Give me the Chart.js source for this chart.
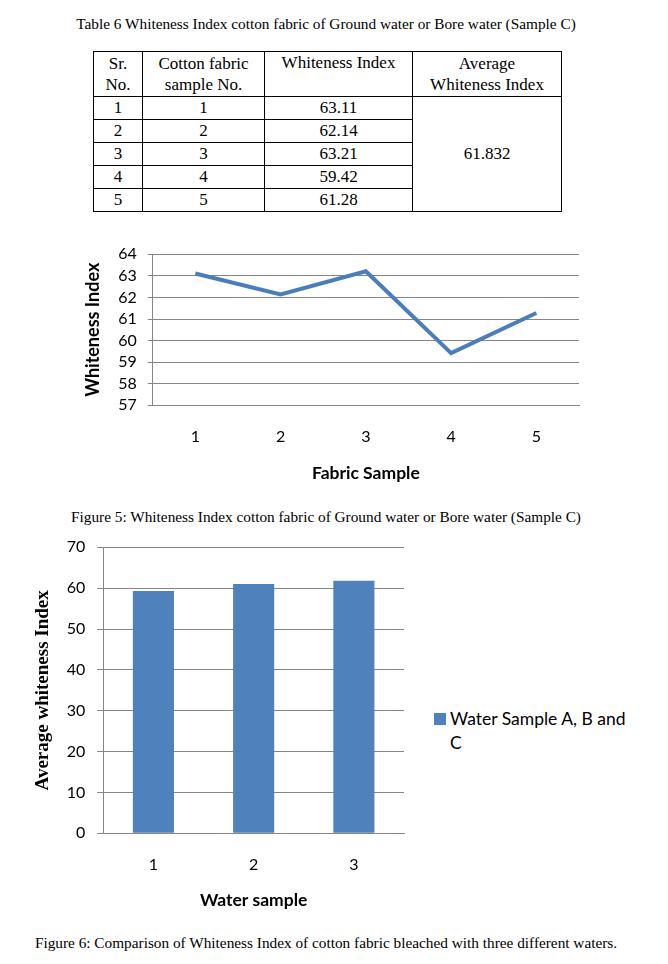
<!DOCTYPE html>
<html lang="en">
<head>
<meta charset="UTF-8">
<title>Whiteness Index - Sample C</title>
<script src="https://cdn.jsdelivr.net/npm/chart.js"></script>
<style>
    body {
        margin: 0;
        background: #fff;
        width: 668px;
        height: 964px;
        position: relative;
        overflow: hidden;
        font-family: "Liberation Serif", "Times New Roman", serif;
        color: #000;
    }

    .caption {
        position: absolute;
        left: 0;
        width: 652px;
        text-align: center;
        font-size: 15.3px;
        line-height: 18px;
        white-space: nowrap;
    }

    table.wi {
        position: absolute;
        left: 93px;
        top: 51px;
        border-collapse: collapse;
        font-size: 17px;
        table-layout: fixed;
    }

    table.wi td {
        border: 1px solid #000;
        text-align: center;
        padding: 0;
        height: 22px;
        line-height: 20px;
    }

    table.wi tr.head td {
        height: 44px;
        line-height: 21px;
    }

    .chart-box {
        position: absolute;
    }

    .legend {
        position: absolute;
        left: 434px;
        top: 707px;
        font-family: Lato, "Open Sans", sans-serif;
        font-size: 17.5px;
        line-height: 24px;
        display: flex;
        align-items: flex-start;
    }

    .legend .swatch {
        width: 12px;
        height: 12px;
        margin-top: 6px;
        margin-right: 4px;
        flex: none;
    }

    .legend .text {
        width: 181px;
    }
</style>
</head>
<body>

<div class="caption" style="top:15px;">Table 6 Whiteness Index cotton fabric of Ground water or Bore water (Sample C)</div>

<table class="wi" id="wiTable">
    <colgroup>
        <col style="width:49px">
        <col style="width:122px">
        <col style="width:148px">
        <col style="width:149px">
    </colgroup>
    <tr class="head">
        <td>Sr.<br>No.</td>
        <td>Cotton fabric<br>sample No.</td>
        <td style="vertical-align:top;">Whiteness Index</td>
        <td>Average<br>Whiteness Index</td>
    </tr>
</table>

<div class="chart-box" style="left:60px; top:240px; width:540px; height:250px;">
    <canvas id="lineChart"></canvas>
</div>

<div class="caption" style="top:508px;">Figure 5: Whiteness Index cotton fabric of Ground water or Bore water (Sample C)</div>

<div class="chart-box" style="left:20px; top:530px; width:400px; height:390px;">
    <canvas id="barChart"></canvas>
</div>

<div class="legend" id="barLegend"></div>

<div class="caption" style="top:934px;">Figure 6: Comparison of Whiteness Index of cotton fabric bleached with three different waters.</div>

<script>
    // table / line chart data (Sample C)
    const fabricSamples = ['1', '2', '3', '4', '5'];
    const whitenessIndex = [63.11, 62.14, 63.21, 59.42, 61.28];
    const averageWhiteness = '61.832';
    const lineTicks = { min: 57, max: 64, step: 1 };

    // bar chart data (water samples A, B, C)
    const waterSamples = ['1', '2', '3'];
    const avgWhiteness = [59.3, 61.0, 61.832];
    const barSeriesName = 'Water Sample A, B and C';
    const barTicks = { min: 0, max: 70, step: 10 };

    const blue = '#4F81BD';
    const gridGray = '#868686';
    const sans = 'Lato, "Open Sans", sans-serif';

    Chart.defaults.color = '#000';
    Chart.defaults.font.family = sans;

    // fixed axis width, and no extra label padding so layout.padding sets the plot top
    function fixWidth(w) {
        return (scale) => {
            scale.width = w;
            scale.paddingTop = 0;
            scale.paddingBottom = 0;
        };
    }

    // fill the table rows
    const table = document.getElementById('wiTable');
    fabricSamples.forEach((s, i) => {
        const tr = document.createElement('tr');
        let html = `<td>${i + 1}</td><td>${s}</td><td>${whitenessIndex[i].toFixed(2)}</td>`;
        if (i === 0) {
            html += `<td rowspan="${fabricSamples.length}">${averageWhiteness}</td>`;
        }
        tr.innerHTML = html;
        table.appendChild(tr);
    });

    // Figure 5 - line chart
    new Chart(document.getElementById('lineChart'), {
        type: 'line',
        data: {
            labels: fabricSamples,
            datasets: [{
                label: 'Whiteness Index',
                data: whitenessIndex,
                borderColor: '#4A7EBB',
                borderWidth: 4,
                pointRadius: 0,
                tension: 0,
                fill: false
            }]
        },
        options: {
            responsive: true,
            maintainAspectRatio: false,
            animation: false,
            layout: { padding: { top: 14.3, right: 21, left: 0, bottom: 0 } },
            plugins: { legend: { display: false }, tooltip: { enabled: false } },
            scales: {
                x: {
                    offset: true,
                    grid: { display: false, drawTicks: false },
                    border: { display: true, color: gridGray },
                    ticks: { padding: 22, font: { size: 16 } },
                    title: {
                        display: true,
                        text: 'Fabric Sample',
                        font: { size: 17.5, weight: 'bold' },
                        padding: { top: 0, bottom: 6.5 }
                    },
                    afterFit: (scale) => { scale.height = 84.7; }
                },
                y: {
                    min: lineTicks.min,
                    max: lineTicks.max,
                    grid: { color: gridGray, tickLength: 5 },
                    border: { display: true, color: gridGray },
                    ticks: { stepSize: lineTicks.step, autoSkip: false, padding: 11, font: { size: 16, lineHeight: 1 } },
                    title: {
                        display: true,
                        text: 'Whiteness Index',
                        font: { size: 18, weight: 'bold' },
                        padding: { top: 22.5, bottom: 0 }
                    },
                    afterFit: fixWidth(92.7)
                }
            }
        }
    });

    // Figure 6 - bar chart
    new Chart(document.getElementById('barChart'), {
        type: 'bar',
        data: {
            labels: waterSamples,
            datasets: [{
                label: barSeriesName,
                data: avgWhiteness,
                backgroundColor: blue,
                barPercentage: 0.41,
                categoryPercentage: 1
            }]
        },
        options: {
            responsive: true,
            maintainAspectRatio: false,
            animation: false,
            layout: { padding: { top: 17.3, right: 16, left: 0, bottom: 0 } },
            plugins: { legend: { display: false }, tooltip: { enabled: false } },
            scales: {
                x: {
                    grid: { display: false, drawTicks: false },
                    border: { display: true, color: gridGray },
                    ticks: { padding: 22, font: { size: 16 } },
                    title: {
                        display: true,
                        text: 'Water sample',
                        font: { size: 17.5, weight: 'bold' },
                        padding: { top: 0, bottom: 9.5 }
                    },
                    afterFit: (scale) => { scale.height = 86.7; }
                },
                y: {
                    min: barTicks.min,
                    max: barTicks.max,
                    grid: { color: gridGray, tickLength: 6 },
                    border: { display: true, color: gridGray },
                    ticks: { stepSize: barTicks.step, autoSkip: false, padding: 12, font: { size: 16 } },
                    title: {
                        display: true,
                        text: 'Average whiteness Index',
                        font: { family: '"Liberation Serif", "Times New Roman", serif', size: 19, weight: 'bold' },
                        padding: { top: 12, bottom: 0 }
                    },
                    afterFit: fixWidth(83.3)
                }
            }
        }
    });

    // html legend so the label can wrap like the original
    document.getElementById('barLegend').innerHTML =
        `<span class="swatch" style="background:${blue}"></span><span class="text">${barSeriesName}</span>`;
</script>
</body>
</html>
